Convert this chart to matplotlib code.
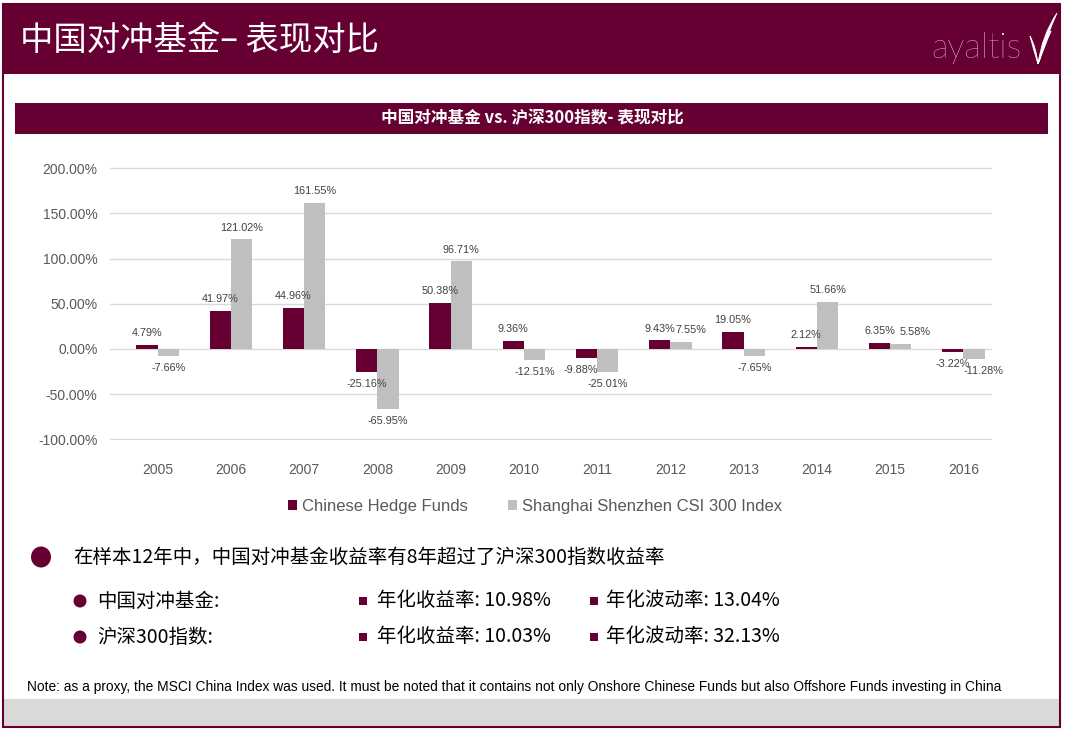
import numpy as np
import matplotlib
matplotlib.use('Agg')
import matplotlib.pyplot as plt
from matplotlib.patches import Rectangle, Ellipse, PathPatch
from matplotlib.path import Path

plt.rcParams['font.family'] = ['Noto Sans CJK SC', 'DejaVu Sans']

### data
years = ['2005', '2006', '2007', '2008', '2009', '2010',
         '2011', '2012', '2013', '2014', '2015', '2016']
hedge_funds = [4.79, 41.97, 44.96, -25.16, 50.38, 9.36,
               -9.88, 9.43, 19.05, 2.12, 6.35, -3.22]
csi300 = [-7.66, 121.02, 161.55, -65.95, 96.71, -12.51,
          -25.01, 7.55, -7.65, 51.66, 5.58, -11.28]
y_ticks = [-100, -50, 0, 50, 100, 150, 200]
series_names = ['Chinese Hedge Funds', 'Shanghai Shenzhen CSI 300 Index']

main_title = '中国对冲基金– 表现对比'
chart_title = '中国对冲基金 vs. 沪深300指数- 表现对比'
headline = '在样本12年中，中国对冲基金收益率有8年超过了沪深300指数收益率'
stat_names = ['中国对冲基金:', '沪深300指数:']
ann_return = ['10.98%', '10.03%']
ann_vol = ['13.04%', '32.13%']
note = ('Note: as a proxy, the MSCI China Index was used. It must be noted that it '
        'contains not only Onshore Chinese Funds but also Offshore Funds investing in China')

MAROON = '#660033'
GREY = '#bfbfbf'
W, H = 1066, 730

# labels nudged sideways in the original (points)
hf_nudge = {6: -4}
csi_nudge = {7: 7, 10: 10, 11: 7}

fig = plt.figure(figsize=(W / 100, H / 100), dpi=100)

# background layer in pixel coordinates
bg = fig.add_axes([0, 0, 1, 1])
bg.set_xlim(0, W)
bg.set_ylim(H, 0)
bg.axis('off')

bg.add_patch(Rectangle((3, 4), 1057, 70, fc=MAROON, ec='none'))
bg.add_patch(Rectangle((4, 699), 1055, 28, fc='#d9d9d9', ec='none'))
bg.add_patch(Rectangle((3, 4), 1057, 723, fill=False, ec=MAROON, lw=1.5))
bg.add_patch(Rectangle((15, 103), 1033, 31, fc=MAROON, ec='none'))

bg.text(20, 40, main_title, color='white', fontsize=24, va='center', ha='left')
bg.text(931, 58, 'ayaltis', color='white', fontsize=25, va='baseline', ha='left',
        family=['Lato', 'DejaVu Sans'], fontweight='light')

# logo swoosh
blades = [
    [(1038, 64), (1042, 35), (1057, 13), (1046, 38), (1038, 64)],
    [(1038, 64), (1033, 48), (1030, 36), (1036, 47), (1038, 64)],
    [(1039, 62), (1043, 44), (1051, 31), (1045, 45), (1039, 62)],
]
for pts in blades:
    codes = [Path.MOVETO, Path.CURVE3, Path.CURVE3, Path.CURVE3, Path.CURVE3]
    bg.add_patch(PathPatch(Path(pts, codes), fc='white', ec='white', lw=0.6))

bg.text(532, 118.5, chart_title, color='white', fontsize=12, fontweight='bold',
        ha='center', va='center')

# chart
top_px, bot_px = 167.1, 440.4
ax = fig.add_axes([110 / W, 1 - bot_px / H, 882 / W, (bot_px - top_px) / H])
x = np.arange(len(years))
bw = 0.29
b1 = ax.bar(x - bw, hedge_funds, bw, align='edge', color=MAROON, label=series_names[0])
b2 = ax.bar(x, csi300, bw, align='edge', color=GREY, label=series_names[1])
ax.set_xlim(-0.65, 11.39)
ax.set_ylim(-101, 201)
ax.set_yticks(y_ticks)
ax.set_yticklabels(['%.2f%%' % v for v in y_ticks])
ax.set_xticks(x)
ax.set_xticklabels(years)
ax.yaxis.grid(True, color='#d9d9d9', lw=1)
ax.set_axisbelow(True)
for s in ax.spines.values():
    s.set_visible(False)
ax.tick_params(length=0, colors='#595959', labelsize=10)
ax.tick_params(axis='y', pad=9)
ax.tick_params(axis='x', pad=16)
for lab in ax.get_xticklabels() + ax.get_yticklabels():
    lab.set_family(['Liberation Sans', 'DejaVu Sans'])

for bars, vals, nudge in ((b1, hedge_funds, hf_nudge), (b2, csi300, csi_nudge)):
    for i, (rect, v) in enumerate(zip(bars, vals)):
        cx = rect.get_x() + rect.get_width() / 2
        off = 5 if v >= 0 else -5
        ax.annotate('%.2f%%' % v, (cx, v), xytext=(nudge.get(i, 0), off),
                    textcoords='offset points',
                    ha='center', va='bottom' if v >= 0 else 'top',
                    fontsize=7.8, color='#404040', family=['Liberation Sans', 'DejaVu Sans'])

leg = fig.legend(handles=[b1, b2], labels=series_names, loc='center',
                 bbox_to_anchor=(535 / W, 1 - 506 / H), ncol=2, frameon=False,
                 handlelength=0.55, handleheight=0.55, handletextpad=0.3,
                 columnspacing=2.4,
                 prop={'family': ['Liberation Sans', 'DejaVu Sans'], 'size': 12})
for t in leg.get_texts():
    t.set_color('#595959')

# bullet text
bg.add_patch(Ellipse((41, 557), 20, 21, fc=MAROON, ec='none'))
bg.text(73, 557, headline, fontsize=14, va='center', ha='left', color='black')
for i, yy in enumerate([601, 637]):
    bg.add_patch(Ellipse((80, yy), 13, 13, fc=MAROON, ec='none'))
    bg.text(97, yy, stat_names[i], fontsize=14, va='center', ha='left')
    bg.add_patch(Rectangle((359, yy - 4), 8, 8, fc=MAROON, ec='none'))
    bg.text(377, yy, '年化收益率: ' + ann_return[i], fontsize=14, va='center', ha='left')
    bg.add_patch(Rectangle((590, yy - 4), 8, 8, fc=MAROON, ec='none'))
    bg.text(606, yy, '年化波动率: ' + ann_vol[i], fontsize=14, va='center', ha='left')

bg.text(27, 687, note, fontsize=9.9, va='center', ha='left', color='black',
        family=['Liberation Sans', 'DejaVu Sans'])

fig.savefig('out.png', dpi=100)
